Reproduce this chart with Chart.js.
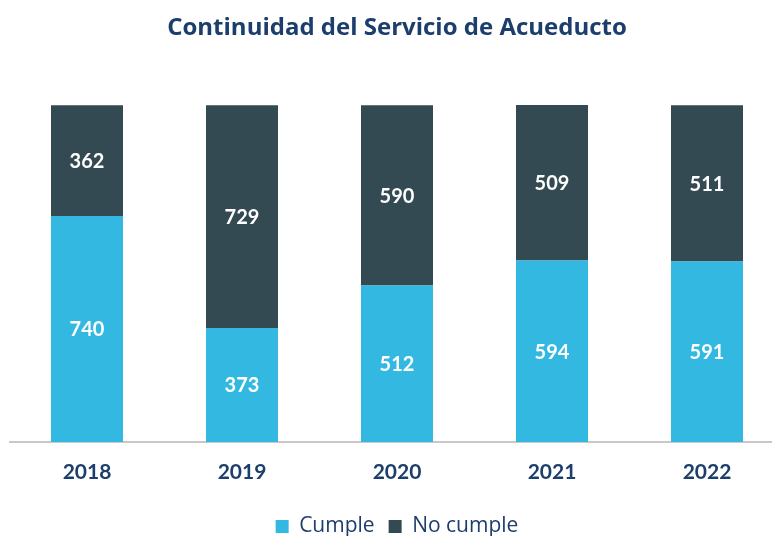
<!DOCTYPE html>
<html>
<head>
<meta charset="utf-8">
<script src="https://cdn.jsdelivr.net/npm/chart.js@4/dist/chart.umd.min.js"></script>
<style>
    html, body { margin: 0; padding: 0; overflow: hidden; background: #fff; }
    #wrap { position: absolute; left: 0; top: 0; width: 794px; height: 536px; overflow: hidden; }
</style>
</head>
<body>
<div id="wrap"><canvas id="acueductoChart" width="794" height="547"></canvas></div>
<script>
const years = ['2018', '2019', '2020', '2021', '2022'];
const cumple = [740, 373, 512, 594, 591];
const noCumple = [362, 729, 590, 509, 511];

const navy = '#1c3e6c';

// draws the value in the middle of every bar segment
const segmentLabels = {
    id: 'segmentLabels',
    afterDatasetsDraw(chart) {
        const ctx = chart.ctx;
        ctx.save();
        ctx.fillStyle = '#ffffff';
        ctx.font = 'bold 20px Lato, "Open Sans", sans-serif';
        ctx.textAlign = 'center';
        ctx.textBaseline = 'middle';
        chart.data.datasets.forEach((ds, i) => {
            chart.getDatasetMeta(i).data.forEach((bar, j) => {
                const mid = (bar.y + bar.base) / 2 + 1;
                ctx.fillText(ds.data[j], bar.x, mid);
            });
        });
        ctx.restore();
    }
};

const ctx = document.getElementById('acueductoChart').getContext('2d');
new Chart(ctx, {
    type: 'bar',
    data: {
        labels: years,
        datasets: [{
            label: 'Cumple',
            data: cumple,
            backgroundColor: '#33b9e1',
            barPercentage: 0.4645,
            categoryPercentage: 1
        }, {
            label: 'No cumple',
            data: noCumple,
            backgroundColor: '#344a52',
            barPercentage: 0.4645,
            categoryPercentage: 1
        }]
    },
    options: {
        responsive: false,
        animation: false,
        layout: {
            padding: { left: 9.5, right: 9.5, top: 0, bottom: 0 }
        },
        scales: {
            x: {
                stacked: true,
                grid: { display: false, drawTicks: false },
                border: { display: true, color: '#c8c8c8', width: 2 },
                ticks: {
                    color: navy,
                    padding: 17.4,
                    font: { family: 'Lato, "Open Sans", sans-serif', size: 21, weight: 'bold' }
                }
            },
            y: {
                stacked: true,
                display: false,
                min: 0,
                max: 1103
            }
        },
        plugins: {
            title: {
                display: true,
                text: 'Continuidad del Servicio de Acueducto',
                color: navy,
                font: { family: '"Open Sans", Lato, sans-serif', size: 24, weight: 'bold' },
                padding: { top: 13.6, bottom: 62.6 }
            },
            legend: {
                position: 'bottom',
                labels: {
                    color: navy,
                    boxWidth: 13,
                    boxHeight: 13,
                    padding: 14,
                    font: { family: '"Open Sans", Lato, sans-serif', size: 21 }
                }
            },
            tooltip: { enabled: false }
        }
    },
    plugins: [segmentLabels]
});
</script>
</body>
</html>
